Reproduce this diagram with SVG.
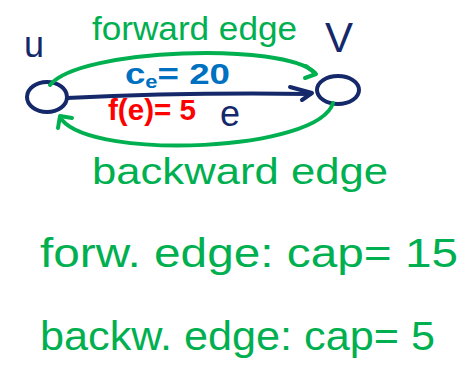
<svg xmlns="http://www.w3.org/2000/svg" width="470" height="371" viewBox="0 0 470 371">
<style>
.node{fill:none;stroke:#14286a;stroke-width:4;stroke-linecap:round;stroke-linejoin:round}
.g{fill:none;stroke:#00b050;stroke-width:4;stroke-linecap:round;stroke-linejoin:round}
.b{fill:none;stroke:#14286a;stroke-width:4;stroke-linecap:round;stroke-linejoin:round}
text{font-family:"Liberation Sans",Arial,sans-serif}
.tg{fill:#00b050}
.tn{fill:#14286a}
</style>
<rect width="470" height="371" fill="#ffffff"/>
<g id="node-u">
<ellipse class="node" cx="47" cy="97" rx="20" ry="15"/>
<text class="tn" x="24" y="57" font-size="36">u</text>
</g>
<g id="node-v">
<ellipse class="node" cx="338" cy="90" rx="21" ry="14"/>
<text class="tn" x="325" y="52" font-size="42">V</text>
</g>
<g id="connectors">
<path class="b" d="M67 98 C150 94 240 93 310 94"/>
<path class="b" d="M290 87 L312 93 L302 100"/>
<path class="g" d="M50 85 C80 48 285 42 315 73"/>
<path class="g" d="M306 66 L316 74 L305 78"/>
<path class="g" d="M333 103 C318 152 95 160 62 120"/>
<path class="g" d="M58 128 L60 116 L72 118"/>
</g>
<g id="labels">
<text class="tg" x="92" y="40" font-size="34" textLength="205" lengthAdjust="spacingAndGlyphs">forward edge</text>
<text fill="#0070c0" x="125" y="84" font-size="30" font-weight="bold" textLength="105" lengthAdjust="spacingAndGlyphs">c<tspan font-size="18" dy="4">e</tspan><tspan dy="-4">= 20</tspan></text>
<text fill="#ff0000" x="108" y="120" font-size="30" font-weight="bold" textLength="88" lengthAdjust="spacingAndGlyphs">f(e)= 5</text>
<text class="tn" x="220" y="126" font-size="36">e</text>
<text class="tg" x="92" y="184" font-size="36" textLength="296" lengthAdjust="spacingAndGlyphs">backward edge</text>
<text class="tg" x="40" y="267" font-size="40" textLength="418" lengthAdjust="spacingAndGlyphs">forw. edge: cap= 15</text>
<text class="tg" x="40" y="350" font-size="40" textLength="395" lengthAdjust="spacingAndGlyphs">backw. edge: cap= 5</text>
</g>
</svg>
